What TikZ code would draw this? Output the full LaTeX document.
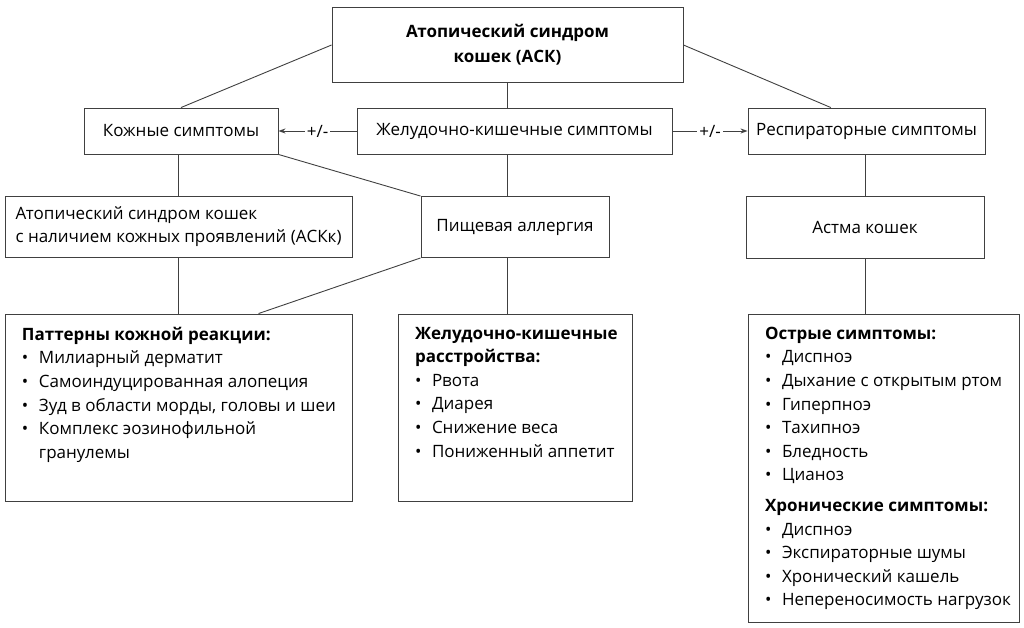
\documentclass[tikz,border=0pt]{standalone}
\usepackage{fontspec}
\setmainfont{Open Sans}
\usepackage{xcolor}
\usepackage{tikz}
\usetikzlibrary{positioning, arrows.meta, calc}

\definecolor{linec}{HTML}{404040}

\newcommand{\itm}[1]{\par\noindent\makebox[17pt][l]{\textbullet}#1}
\newcommand{\cont}[1]{\par\noindent\rule{17pt}{0pt}#1}
\newcommand{\hd}[1]{\par\noindent\textbf{#1}}

\begin{document}
\begin{tikzpicture}[
  x=1pt, y=-1pt,
  every node/.style={font=\fontsize{17}{23.6}\selectfont, text=black},
  box/.style={
    rectangle, draw=linec, line width=0.9pt, inner sep=0pt, align=center,
  },
  listbox/.style={
    rectangle, draw=linec, line width=0.9pt, inner sep=0pt,
  },
  link/.style={draw=linec, line width=0.9pt},
  arr/.style={link, -{Stealth[length=7pt,width=5pt]}},
  pm/.style={fill=white, inner sep=2pt},
]
\useasboundingbox (0,0) rectangle (1024,628);

% ---- Top level ----
\node[box, minimum width=351, minimum height=75, font=\fontsize{17}{25}\selectfont\bfseries] (top) at (507.5,45)
  {Атопический синдром\\кошек (АСК)};

% ---- Symptom groups ----
\node[box, minimum width=194, minimum height=46] (kozh) at (181,131) {Кожные симптомы};
\node[box, minimum width=315, minimum height=46] (gik)  at (514.5,131) {Желудочно-кишечные симптомы};
\node[box, minimum width=237, minimum height=46] (resp) at (866.5,131) {Респираторные симптомы};

% ---- Second row ----
\node[box, minimum width=347, minimum height=61, align=left] (ask) at (178.5,226.5)
  {Атопический синдром кошек\\с наличием кожных проявлений (АСКк)};
\node[box, minimum width=188, minimum height=61] (pishch) at (515,227) {Пищевая аллергия};
\node[box, minimum width=238, minimum height=62] (astma)  at (865,227) {Астма кошек};

% ---- Lists (text 17pt in from the left edge) ----
\node[listbox] (patt) at (178.5,407.5) {\parbox[c][187pt][t]{347pt}{\leftskip=17pt\vspace*{13pt}%
  \hd{Паттерны кожной реакции:}
  \itm{Милиарный дерматит}
  \itm{Самоиндуцированная алопеция}
  \itm{Зуд в области морды, головы и шеи}
  \itm{Комплекс эозинофильной}
  \cont{гранулемы}\par}};

\node[listbox] (gir) at (515,407.5) {\parbox[c][187pt][t]{234pt}{\leftskip=17pt\vspace*{13pt}%
  \hd{Желудочно-кишечные}
  \hd{расстройства:}
  \itm{Рвота}
  \itm{Диарея}
  \itm{Снижение веса}
  \itm{Пониженный аппетит}\par}};

\node[listbox] (ostr) at (883.5,468) {\parbox[c][308pt][t]{271pt}{\leftskip=17pt\vspace*{13pt}%
  \hd{Острые симптомы:}
  \itm{Диспноэ}
  \itm{Дыхание с открытым ртом}
  \itm{Гиперпноэ}
  \itm{Тахипноэ}
  \itm{Бледность}
  \itm{Цианоз}\par\vspace{7pt}
  \hd{Хронические симптомы:}
  \itm{Диспноэ}
  \itm{Экспираторные шумы}
  \itm{Хронический кашель}
  \itm{Непереносимость нагрузок}\par}};

% ---- Connectors ----
\draw[link] (top.west) -- (kozh.north);
\draw[link] (top.east) -- ($(resp.north west)!0.35!(resp.north east)$);
\draw[link] (top.south) -- (top.south |- gik.north);

\draw[arr] (gik.west) -- node[pm] {+/-} (kozh.east);
\draw[arr] (gik.east) -- node[pm] {+/-} (resp.west);

\draw[link] (ask.north |- kozh.south) -- (ask.north);
\draw[link] (kozh.south east) -- (pishch.north west);
\draw[link] (top.south |- gik.south) -- (top.south |- pishch.north);
\draw[link] (astma.north) -- (astma.north |- resp.south);

\draw[link] (ask.south) -- (ask.south |- patt.north);
\draw[link] (pishch.south west) -- ($(patt.north west)!0.73!(patt.north east)$);
\draw[link] (top.south |- pishch.south) -- (top.south |- gir.north);
\draw[link] (astma.south) -- (astma.south |- ostr.north);

\end{tikzpicture}
\end{document}
